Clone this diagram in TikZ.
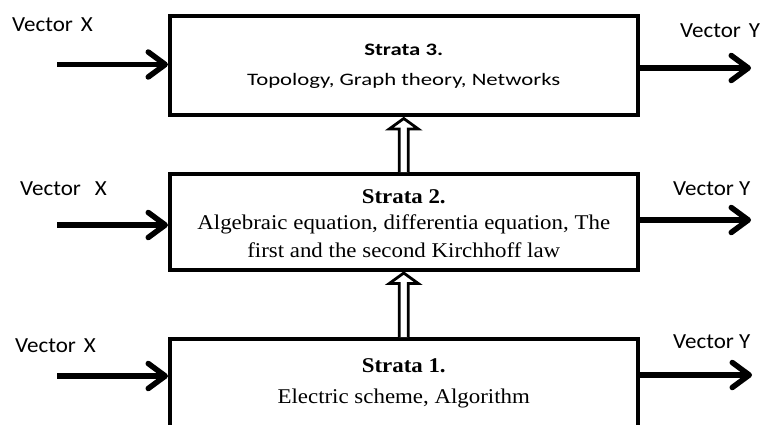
\documentclass[tikz,border=0pt]{standalone}
\usepackage{fontspec}
\usetikzlibrary{arrows.meta,calc}
\newfontfamily\lblfont[FakeStretch=1.07]{Carlito}
\newfontfamily\calfont[FakeStretch=1.3]{Carlito}
\newfontfamily\tmsfont[FakeStretch=1.09]{Liberation Serif}
\begin{document}
\begin{tikzpicture}[x=1pt,y=-1pt,
  box/.style={draw, line width=4pt, outer sep=2pt, inner sep=0pt, minimum width=467.5pt},
  txt/.style={anchor=base, inner sep=0pt},
  lbl/.style={anchor=base west, inner sep=0pt, font=\lblfont\fontsize{21.5pt}{24pt}\selectfont},
  flow/.style={line width=5.5pt, -{Straight Barb[round, length=17pt, width=25pt]}},
  hollowarr/.style={line width=2.8pt, fill=white, line join=miter}
]
\useasboundingbox (0,0) rectangle (762,425);
\fill[white] (0,0) rectangle (762,425);
\clip (0,0) rectangle (762,425);

% boxes
\node[box, minimum height=99pt]   (b3) at (403.75,65.5) {};
\node[box, minimum height=95.5pt] (b2) at (403.75,221.75) {};
\node[box, minimum height=87.5pt] (b1) at (403.75,382.75) {};

% box texts
\node[txt, font=\calfont\bfseries\fontsize{17.5pt}{20pt}\selectfont] (s3) at (403.75,56) {Strata 3.};
\node[txt, font=\calfont\fontsize{17.5pt}{20pt}\selectfont] (d3) at (403.75,86) {Topology, Graph theory, Networks};

\node[txt, font=\tmsfont\bfseries\fontsize{21pt}{24pt}\selectfont] (s2) at (403.75,203) {Strata 2.};
\node[txt, font=\tmsfont\fontsize{21pt}{24pt}\selectfont] (d2a) at (403.75,229) {Algebraic equation, differentia equation, The};
\node[txt, font=\tmsfont\fontsize{21pt}{24pt}\selectfont] (d2b) at (403.75,257) {first and the second Kirchhoff law};

\node[txt, font=\tmsfont\bfseries\fontsize{21pt}{24pt}\selectfont] (s1) at (403.75,372) {Strata 1.};
\node[txt, font=\tmsfont\fontsize{21pt}{24pt}\selectfont] (d1) at (403.75,403) {Electric scheme, Algorithm};

% labels
\node[lbl] (vx3) at (12,32) {Vector\hspace{8pt}X};
\node[lbl] (vx2) at (20,195) {Vector\hspace{14pt}X};
\node[lbl] (vx1) at (15,352) {Vector\hspace{8pt}X};
\node[lbl] (vy3) at (680,38) {Vector\hspace{8pt}Y};
\node[lbl] (vy2) at (673,195) {Vector Y};
\node[lbl] (vy1) at (673,348) {Vector Y};

% input / output coordinates
\coordinate (in3) at (57,64.5);
\coordinate (in2) at (57,225);
\coordinate (in1) at (57,376);
\coordinate (out3) at (751,68);
\coordinate (out2) at (751,220);
\coordinate (out1) at (752,375);

\draw[flow] (in3) -- (in3 -| b3.west);
\draw[flow] (in2) -- (in2 -| b2.west);
\draw[flow] (in1) -- (in1 -| b1.west);
\draw[flow] (out3 -| b3.east) -- (out3);
\draw[flow] (out2 -| b2.east) -- (out2);
\draw[flow] (out1 -| b1.east) -- (out1);

% hollow upward arrows
\draw[hollowarr] let \p1=(b2.north), \p2=(b3.south) in
  (\x1-4.5pt,\y1) -- (\x1-4.5pt,\y2-12pt) -- (\x1-14.5pt,\y2-12pt) -- (\x1,\y2-1.5pt)
  -- (\x1+14.5pt,\y2-12pt) -- (\x1+4.5pt,\y2-12pt) -- (\x1+4.5pt,\y1);
\draw[hollowarr] let \p1=(b1.north), \p2=(b2.south) in
  (\x1-4.5pt,\y1) -- (\x1-4.5pt,\y2-12pt) -- (\x1-14.5pt,\y2-12pt) -- (\x1,\y2-1.5pt)
  -- (\x1+14.5pt,\y2-12pt) -- (\x1+4.5pt,\y2-12pt) -- (\x1+4.5pt,\y1);
\end{tikzpicture}
\end{document}
